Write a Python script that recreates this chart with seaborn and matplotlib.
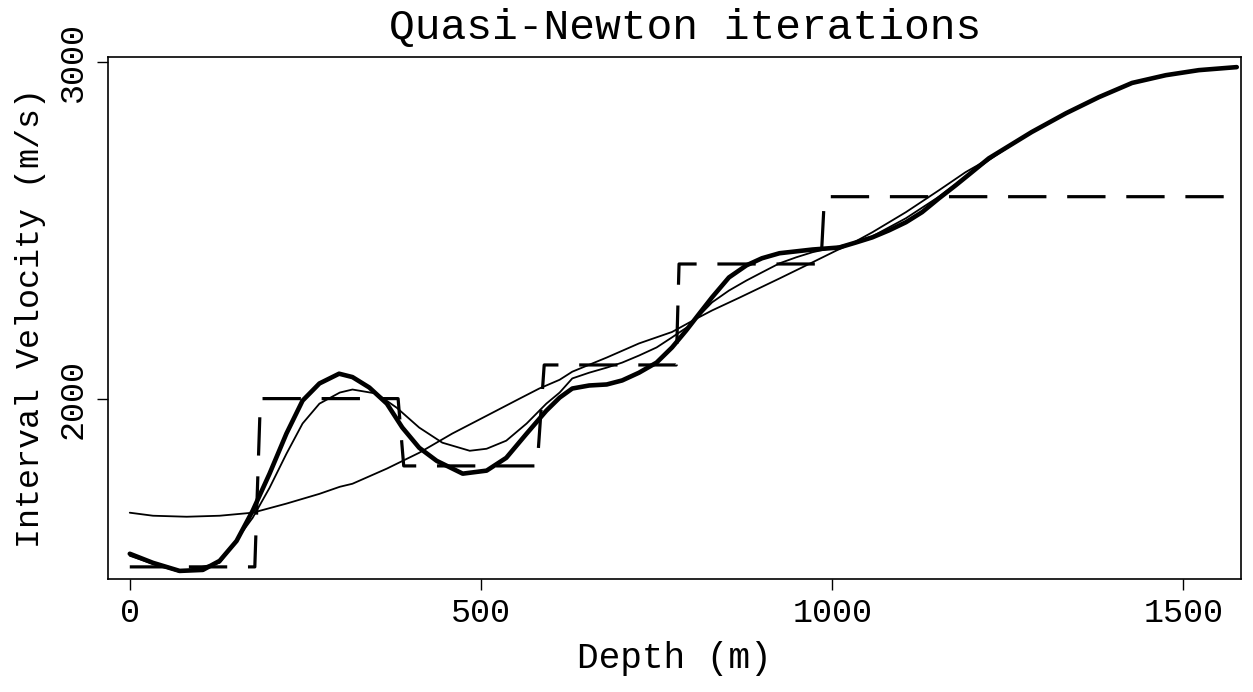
import matplotlib
matplotlib.use("Agg")
import matplotlib.pyplot as plt
import numpy as np
import pandas as pd
import seaborn as sns

# ---- data ----
# true (blocky) model, dashed
model_depth = [0, 178, 186, 382, 390, 580, 590, 778, 782, 984, 989, 1576]
model_vel = [1500, 1500, 2000, 2000, 1800, 1800, 2100, 2100, 2400, 2400, 2600, 2600]

# first (smooth) iterate, thin
iter1_depth = [0, 33, 81, 128, 175, 223, 270, 299, 317, 366, 412, 459, 508, 555,
               583, 612, 630, 679, 725, 772, 807, 829, 868, 925, 972, 1006, 1028,
               1057, 1105, 1152, 1190, 1238, 1284, 1333, 1380, 1427, 1475, 1522, 1576]
iter1_vel = [1661, 1652, 1649, 1652, 1661, 1688, 1717, 1738, 1747, 1792, 1839, 1896, 1949, 2000,
             2030, 2056, 2080, 2122, 2164, 2198, 2238, 2262, 2300, 2357, 2405, 2440, 2461,
             2494, 2554, 2619, 2673, 2730, 2792, 2848, 2896, 2938, 2961, 2976, 2985]

# intermediate iterate, thin
iter2_depth = [0, 33, 71, 128, 175, 199, 223, 246, 270, 299, 317, 351, 380, 412, 445,
               484, 508, 536, 565, 593, 612, 630, 654, 679, 701, 725, 750, 772, 797,
               829, 853, 878, 900, 925, 949, 972, 996, 1028, 1057, 1105, 1152, 1199,
               1238, 1284, 1333, 1380, 1427, 1475, 1522, 1576]
iter2_vel = [1533, 1509, 1485, 1512, 1646, 1735, 1836, 1926, 1985, 2018, 2027, 2015, 1973, 1914, 1869,
             1845, 1851, 1875, 1926, 1985, 2018, 2060, 2077, 2092, 2107, 2128, 2152, 2182, 2217,
             2286, 2321, 2351, 2375, 2402, 2420, 2435, 2446, 2461, 2482, 2536, 2600, 2673,
             2730, 2792, 2848, 2896, 2938, 2961, 2976, 2985]

# final iterate, thick
final_depth = [0, 33, 71, 104, 128, 152, 175, 199, 223, 246, 270, 298, 317, 341, 366, 388,
               412, 437, 474, 508, 536, 565, 593, 612, 630, 654, 679, 701, 725, 750,
               772, 792, 811, 829, 853, 878, 900, 925, 972, 1010, 1034, 1057, 1081, 1105,
               1128, 1152, 1176, 1199, 1223, 1284, 1333, 1380, 1427, 1475, 1522, 1576]
final_vel = [1539, 1512, 1488, 1491, 1518, 1577, 1667, 1777, 1896, 1994, 2045, 2074, 2064, 2033, 1985, 1914,
             1854, 1815, 1777, 1786, 1824, 1896, 1964, 2003, 2030, 2039, 2042, 2054, 2077, 2107,
             2152, 2202, 2253, 2301, 2360, 2396, 2417, 2432, 2443, 2449, 2464, 2479, 2500, 2524,
             2554, 2595, 2634, 2673, 2714, 2792, 2848, 2896, 2938, 2961, 2976, 2985]

x_ticks = [0, 500, 1000, 1500]
y_ticks = [2000, 3000]

title = "Quasi-Newton iterations"
xlabel = "Depth (m)"
ylabel = "Interval Velocity (m/s)"

# ---- style ----
sns.set_theme(style="white")
plt.rcParams["font.family"] = ["Liberation Mono", "DejaVu Sans"]

fig = plt.figure(figsize=(12.53, 6.92), dpi=100)
ax = fig.add_axes([0.0862, 0.1633, 0.9042, 0.7543])

df_model = pd.DataFrame({"depth": model_depth, "vel": model_vel})
df1 = pd.DataFrame({"depth": iter1_depth, "vel": iter1_vel})
df2 = pd.DataFrame({"depth": iter2_depth, "vel": iter2_vel})
df3 = pd.DataFrame({"depth": final_depth, "vel": final_vel})

sns.lineplot(data=df_model, x="depth", y="vel", ax=ax, color="black", lw=2.3,
             estimator=None, sort=False, linestyle=(0, (12, 6.5)))
sns.lineplot(data=df1, x="depth", y="vel", ax=ax, color="black", lw=1.3,
             estimator=None, sort=False, solid_joinstyle="round", solid_capstyle="round")
sns.lineplot(data=df2, x="depth", y="vel", ax=ax, color="black", lw=1.3,
             estimator=None, sort=False, solid_joinstyle="round", solid_capstyle="round")
sns.lineplot(data=df3, x="depth", y="vel", ax=ax, color="black", lw=3.3,
             estimator=None, sort=False, solid_joinstyle="round", solid_capstyle="round")

ax.set_xlim(-31, 1582)
ax.set_ylim(1464, 3015)
ax.set_xticks(x_ticks)
ax.set_yticks(y_ticks)
ax.set_xticklabels([str(v) for v in x_ticks], fontsize=24)
ax.set_yticklabels([str(v) for v in y_ticks], fontsize=24, rotation=90, va="center")
ax.tick_params(axis="both", which="both", direction="out", bottom=True, left=True,
               length=8, width=1.0, color="black", labelcolor="black", pad=6)

for s in ax.spines.values():
    s.set_color("black")
    s.set_linewidth(1.2)
    s.set_visible(True)

ax.set_xlabel(xlabel, fontsize=26, color="black", labelpad=8)
ax.set_ylabel(ylabel, fontsize=24, color="black", labelpad=8)
fig.text(685 / 1253, 1 - 28 / 692, title, fontsize=31, ha="center", va="center", color="black")

fig.savefig("out.png", dpi=100, facecolor="white")
